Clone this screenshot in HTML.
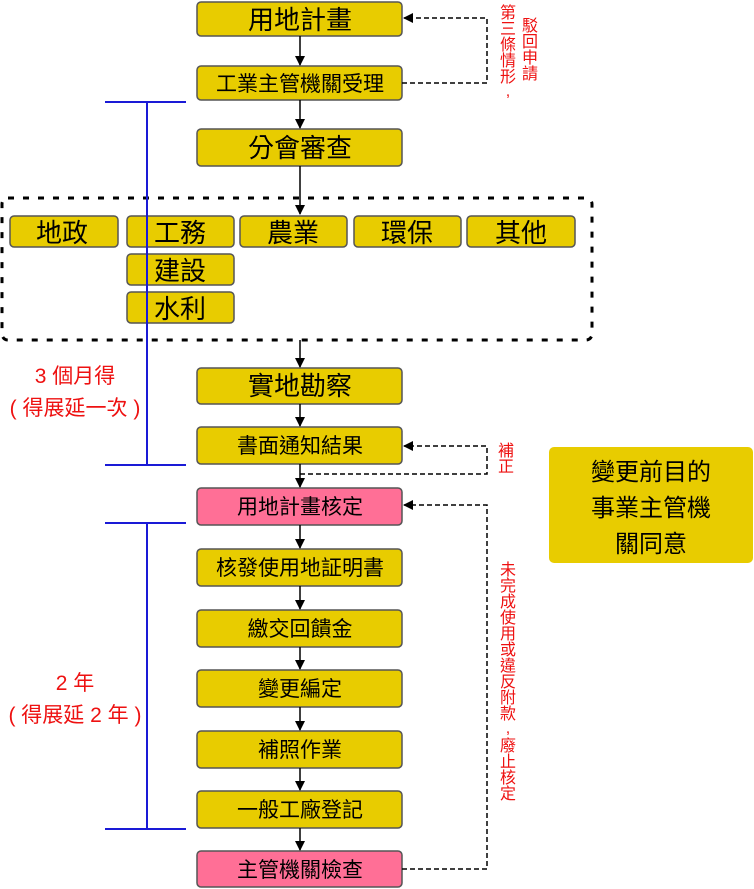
<!DOCTYPE html>
<html><head><meta charset="utf-8"><style>
body{margin:0;background:#fff}
svg{display:block}
text{font-family:"Liberation Sans","Noto Sans CJK TC",sans-serif}
</style></head><body>
<svg width="754" height="889" viewBox="0 0 754 889" xmlns="http://www.w3.org/2000/svg">
<defs>
<marker id="a" markerWidth="10" markerHeight="10" refX="9" refY="5" orient="auto" markerUnits="userSpaceOnUse"><path d="M0,0 L10,5 L0,10 z" fill="#000"/></marker>
</defs>
<g fill="#e8cc00" stroke="#555" stroke-width="1.5">
<rect x="197" y="2" width="205" height="34" rx="4"/>
<rect x="197" y="66" width="205" height="34" rx="4"/>
<rect x="197" y="129" width="205" height="37" rx="4"/>
<rect x="10" y="216" width="108" height="31" rx="4"/>
<rect x="127" y="216" width="107" height="31" rx="4"/>
<rect x="240" y="216" width="107" height="31" rx="4"/>
<rect x="354" y="216" width="107" height="31" rx="4"/>
<rect x="467" y="216" width="108" height="31" rx="4"/>
<rect x="127" y="254" width="107" height="31" rx="4"/>
<rect x="127" y="292" width="107" height="31" rx="4"/>
<rect x="197" y="368" width="205" height="36" rx="4"/>
<rect x="197" y="427" width="205" height="37" rx="4"/>
<rect x="197" y="549" width="205" height="37" rx="4"/>
<rect x="197" y="610" width="205" height="37" rx="4"/>
<rect x="197" y="670" width="205" height="37" rx="4"/>
<rect x="197" y="731" width="205" height="37" rx="4"/>
<rect x="197" y="791" width="205" height="37" rx="4"/>
</g>
<g fill="#ff6f96" stroke="#555" stroke-width="1.5">
<rect x="197" y="488" width="205" height="37" rx="4"/>
<rect x="197" y="851" width="205" height="36" rx="4"/>
</g>
<rect x="549" y="447" width="204" height="116" rx="5" fill="#e8cc00"/>
<rect x="2" y="198" width="590" height="142" rx="6" fill="none" stroke="#000" stroke-width="3" stroke-dasharray="6 9"/>
<g stroke="#000" stroke-width="1.5" marker-end="url(#a)">
<line x1="300" y1="36" x2="300" y2="65"/>
<line x1="300" y1="100" x2="300" y2="128"/>
<line x1="300" y1="166" x2="300" y2="214"/>
<line x1="300" y1="340" x2="300" y2="367"/>
<line x1="300" y1="404" x2="300" y2="426"/>
<line x1="300" y1="464" x2="300" y2="487"/>
<line x1="300" y1="525" x2="300" y2="548"/>
<line x1="300" y1="586" x2="300" y2="609"/>
<line x1="300" y1="647" x2="300" y2="669"/>
<line x1="300" y1="707" x2="300" y2="730"/>
<line x1="300" y1="768" x2="300" y2="790"/>
<line x1="300" y1="828" x2="300" y2="850"/>
</g>
<g fill="none" stroke="#000" stroke-width="1.5" stroke-dasharray="5 3" marker-end="url(#a)">
<path d="M402,83 H487 V18 H404"/>
<path d="M300,474 H487 V446 H404"/>
<path d="M402,869 H487 V505 H404"/>
</g>
<g stroke="#1a1ad6" stroke-width="2">
<line x1="147" y1="102" x2="147" y2="465"/>
<line x1="105" y1="102" x2="186" y2="102"/>
<line x1="105" y1="465" x2="186" y2="465"/>
<line x1="147" y1="523" x2="147" y2="829"/>
<line x1="105" y1="523" x2="186" y2="523"/>
<line x1="105" y1="829" x2="186" y2="829"/>
</g>
<g text-anchor="middle" fill="#000">
<text x="300" y="29" font-size="26">用地計畫</text>
<text x="300" y="91" font-size="21">工業主管機關受理</text>
<text x="300" y="157" font-size="26">分會審查</text>
<text x="62" y="242" font-size="26">地政</text>
<text x="180" y="242" font-size="26">工務</text>
<text x="293" y="242" font-size="26">農業</text>
<text x="407" y="242" font-size="26">環保</text>
<text x="521" y="242" font-size="26">其他</text>
<text x="180" y="280" font-size="26">建設</text>
<text x="180" y="318" font-size="26">水利</text>
<text x="300" y="395" font-size="26">實地勘察</text>
<text x="300" y="453" font-size="21">書面通知結果</text>
<text x="300" y="514" font-size="21">用地計畫核定</text>
<text x="300" y="575" font-size="21">核發使用地証明書</text>
<text x="300" y="636" font-size="21">繳交回饋金</text>
<text x="300" y="696" font-size="21">變更編定</text>
<text x="300" y="757" font-size="21">補照作業</text>
<text x="300" y="817" font-size="21">一般工廠登記</text>
<text x="300" y="877" font-size="21">主管機關檢查</text>
<text x="651" y="480" font-size="24">變更前目的</text>
<text x="651" y="516" font-size="24">事業主管機</text>
<text x="651" y="552" font-size="24">關同意</text>
</g>
<g text-anchor="middle" fill="#ee1111" font-size="21">
<text x="75" y="383">3 個月得</text>
<text x="75" y="415">( 得展延一次 )</text>
<text x="75" y="690">2 年</text>
<text x="75" y="722">( 得展延 2 年 )</text>
</g>
<g fill="#ee1111" font-size="16" text-anchor="middle">
<text x="508" y="18">第</text><text x="508" y="34">三</text><text x="508" y="50">條</text><text x="508" y="66">情</text><text x="508" y="82">形</text><text x="508" y="96">,</text>
<text x="530" y="31">駁</text><text x="530" y="47">回</text><text x="530" y="63">申</text><text x="530" y="79">請</text>
<text x="506" y="456">補</text><text x="506" y="472">正</text>
<text x="508" y="575">未</text><text x="508" y="591">完</text><text x="508" y="607">成</text><text x="508" y="623">使</text><text x="508" y="639">用</text><text x="508" y="655">或</text><text x="508" y="671">違</text><text x="508" y="687">反</text><text x="508" y="703">附</text><text x="508" y="719">款</text><text x="508" y="733">,</text><text x="508" y="751">廢</text><text x="508" y="767">止</text><text x="508" y="783">核</text><text x="508" y="799">定</text>
</g>
</svg>
</body></html>
